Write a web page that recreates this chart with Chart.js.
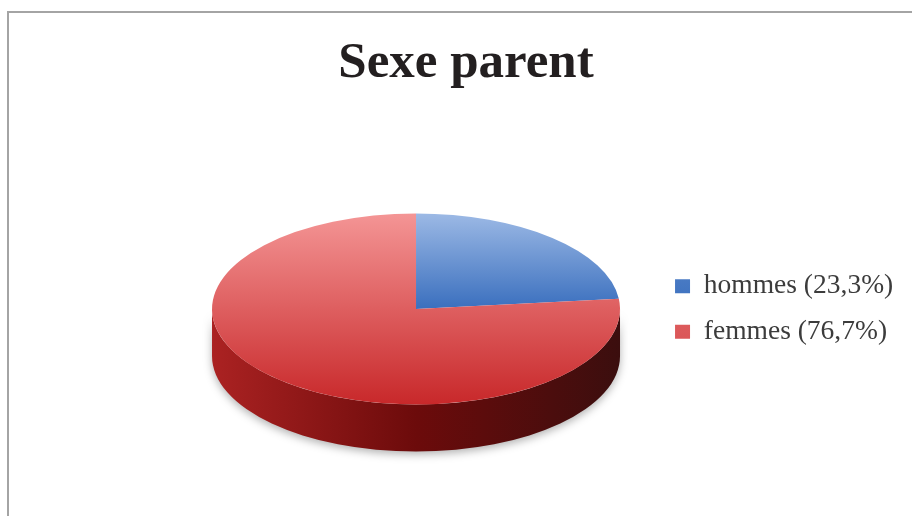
<!DOCTYPE html>
<html>
<head>
<meta charset="utf-8">
<script src="https://cdn.jsdelivr.net/npm/chart.js@4"></script>
<style>
  html, body { margin: 0; padding: 0; background: #fff; overflow: hidden; }
  #wrap { position: relative; width: 912px; height: 516px; }
  #frame { position: absolute; left: 7px; top: 11px; width: 1000px; height: 1000px;
           border-left: 2px solid #a4a4a4; border-top: 2px solid #a4a4a4; }
  #title { position: absolute; left: 0; top: 35px; width: 932px; text-align: center;
           font: bold 51px/51px "Liberation Serif", serif; color: #231f20; }
  canvas { position: absolute; left: 0; top: 0; }
</style>
</head>
<body>
<div id="wrap">
  <div id="frame"></div>
  <div id="title">Sexe parent</div>
  <canvas id="myChart" width="912" height="516"></canvas>
</div>
<script>
// Data
const categories = ['hommes', 'femmes']
const shares = [23.3, 76.7]
const legendLabels = ['hommes (23,3%)', 'femmes (76,7%)']

// Look of the 3D pie
const pieRadius = 204
const tilt = 0.468
const depth = 47
const faceColors = [['#9cb9e5', '#3a6fbe'], ['#f49595', '#c8282a']]
const sideColors = [['#2c5592', '#142a4c'], ['#ab2222', '#6c0b0b', '#3b0e0e']]

// Squash the pie into an ellipse and add the side wall
const pie3d = {
  id: 'pie3d',
  beforeDatasetsDraw (chart) {
    const ctx = chart.ctx
    const arcs = chart.getDatasetMeta(0).data
    const { x, y, outerRadius: r } = arcs[0]
    const d = depth / tilt
    ctx.save()
    ctx.translate(x, y)
    ctx.scale(1, tilt)
    ctx.translate(-x, -y)
    arcs.forEach((a, i) => {
      const lo = Math.max(a.startAngle, 0)
      const hi = Math.min(a.endAngle, Math.PI)
      if (hi <= lo) return
      const g = ctx.createLinearGradient(x - r, 0, x + r, 0)
      const stops = sideColors[i]
      stops.forEach((c, k) => g.addColorStop(k / (stops.length - 1), c))
      ctx.save()
      ctx.shadowColor = 'rgba(0,0,0,0.3)'
      ctx.shadowBlur = 8
      ctx.shadowOffsetY = 3
      ctx.beginPath()
      ctx.arc(x, y, r, lo, hi)
      ctx.arc(x, y + d, r, hi, lo, true)
      ctx.closePath()
      ctx.fillStyle = g
      ctx.fill()
      ctx.restore()
    })
  },
  afterDatasetsDraw (chart) {
    chart.ctx.restore()
  }
}

const faceColor = (c) => {
  const area = c.chart.chartArea
  const cols = faceColors[c.dataIndex]
  if (!area) return cols[1]
  const cy = (area.top + area.bottom) / 2
  const bottom = c.dataIndex === 0 ? cy : cy + pieRadius
  const g = c.chart.ctx.createLinearGradient(0, cy - pieRadius, 0, bottom)
  g.addColorStop(0, cols[0])
  g.addColorStop(1, cols[1])
  return g
}

const ctx = document.getElementById('myChart').getContext('2d')
new Chart(ctx, {
  type: 'pie',
  data: {
    labels: legendLabels,
    datasets: [
      {
        label: 'Sexe parent',
        data: shares,
        backgroundColor: faceColor,
        borderWidth: 0,
        radius: pieRadius,
        clip: false
      }
    ]
  },
  plugins: [pie3d],
  options: {
    responsive: false,
    animation: false,
    layout: { padding: { left: 175, right: 8.8, top: 102, bottom: 0 } },
    plugins: {
      title: { display: false },
      tooltip: { enabled: false },
      legend: {
        position: 'right',
        labels: {
          boxWidth: 15,
          boxHeight: 14,
          padding: 18,
          color: '#3c3c3c',
          font: { family: '"Liberation Serif", serif', size: 27.5 }
        }
      }
    }
  }
})
</script>
</body>
</html>
